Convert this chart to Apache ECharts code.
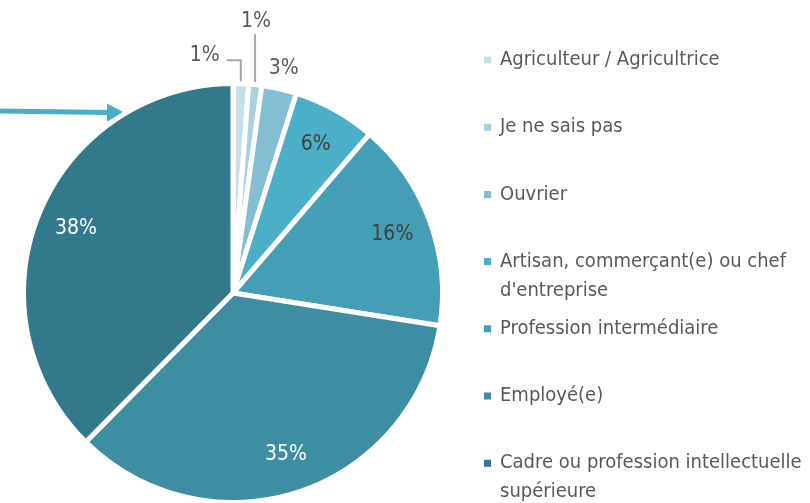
<!DOCTYPE html>
<html>
<head>
<meta charset="utf-8">
<script src="https://cdn.jsdelivr.net/npm/echarts@6/dist/echarts.min.js"></script>
<style>
    html, body {
        margin: 0;
        padding: 0;
        background: #ffffff;
    }
    #pie-chart {
        width: 810px;
        height: 503px;
    }
</style>
</head>
<body>
<div id="pie-chart"></div>
<script>
    // categories and shares (%), clockwise from the top
    var categories = [
        'Agriculteur / Agricultrice',
        'Je ne sais pas',
        'Ouvrier',
        'Artisan, commerçant(e) ou chef d\'entreprise',
        'Profession intermédiaire',
        'Employé(e)',
        'Cadre ou profession intellectuelle supérieure'
    ];
    var legendLabels = [
        'Agriculteur / Agricultrice',
        'Je ne sais pas',
        'Ouvrier',
        'Artisan, commerçant(e) ou chef\nd\'entreprise',
        'Profession intermédiaire',
        'Employé(e)',
        'Cadre ou profession intellectuelle\nsupérieure'
    ];
    var shares = [1.2, 1.0, 2.7, 6.4, 16.2, 34.9, 37.6];
    var valueLabels = ['1%', '1%', '3%', '6%', '16%', '35%', '38%'];

    var colors = ['#c5dfe8', '#a8d0de', '#84bfd1', '#4bafc8', '#449eb5', '#3d8da3', '#33798c'];
    var FONT = '"DejaVu Sans Condensed", "DejaVu Sans", sans-serif';

    var cx = 233, cy = 293, R = 209.5, Rv = 207;
    var total = shares.reduce(function (a, b) { return a + b; }, 0);
    var mids = [];
    var acc = 0;
    for (var i = 0; i < shares.length; i++) {
        mids.push((acc + shares[i] / 2) / total);
        acc += shares[i];
    }
    // point on the pie at a fraction of the circle, k * radius from the centre
    function polar(frac, k) {
        var a = (90 - frac * 360) * Math.PI / 180;
        return [cx + k * Rv * Math.cos(a), cy - k * Rv * Math.sin(a)];
    }

    var pieData = [];
    for (var i = 0; i < categories.length; i++) {
        var item = {
            name: categories[i],
            value: shares[i],
            itemStyle: { color: colors[i] },
            label: {
                color: i >= 5 ? '#ffffff' : (i >= 3 ? '#404040' : '#595959')
            }
        };
        if (i < 2) {
            item.label.position = 'outside';
            item.labelLine = { show: true };
        }
        pieData.push(item);
    }

    // one legend per entry so the wrapped ones keep the icon on their first line
    var legends = [];
    for (var i = 0; i < categories.length; i++) {
        var twoLines = legendLabels[i].indexOf('\n') >= 0;
        var iconY = 60 + 67.2 * i;
        legends.push({
            data: [categories[i]],
            orient: 'vertical',
            left: 482,
            top: twoLines ? iconY - 43.5 : iconY - 14.5,
            padding: 0,
            icon: 'rect',
            itemWidth: 9,
            itemHeight: 9,
            itemGap: 0,
            selectedMode: false,
            formatter: (function (txt) {
                return function () { return txt.indexOf('\n') >= 0 ? ' \n' + txt : txt; };
            })(legendLabels[i]),
            textStyle: {
                fontFamily: FONT,
                fontSize: 20,
                lineHeight: 29,
                color: '#595959',
                padding: [0, 0, 0, 3]
            }
        });
    }

    var chart = echarts.init(document.getElementById('pie-chart'));
    chart.setOption({
        animation: false,
        backgroundColor: '#ffffff',
        legend: legends,
        graphic: [
            {
                type: 'line',
                shape: { x1: 0, y1: 111, x2: 109, y2: 112.6 },
                style: { stroke: '#4aaec8', lineWidth: 5 }
            },
            {
                type: 'polygon',
                shape: { points: [[107, 103.5], [124, 112.6], [107, 121.5]] },
                style: { fill: '#4aaec8' }
            }
        ],
        series: [{
            type: 'pie',
            center: [cx, cy],
            radius: [0, R],
            startAngle: 90,
            clockwise: true,
            avoidLabelOverlap: false,
            itemStyle: {
                borderColor: '#ffffff',
                borderWidth: 5
            },
            label: {
                show: true,
                position: 'inside',
                fontFamily: FONT,
                fontSize: 21,
                formatter: function (p) { return valueLabels[p.dataIndex]; }
            },
            labelLine: {
                show: false,
                lineStyle: { color: '#a6a6a6', width: 2 }
            },
            labelLayout: function (p) {
                var i = p.dataIndex;
                if (i === 0) {
                    var p0 = polar(mids[0], 1.0);
                    var yTop = cy - 1.125 * Rv;
                    return {
                        x: p0[0] - 21, y: yTop - 5,
                        align: 'right', verticalAlign: 'middle',
                        labelLinePoints: [p0, [p0[0], yTop], [p0[0] - 14, yTop]]
                    };
                }
                if (i === 1) {
                    var q0 = polar(mids[1], 1.0);
                    var yTop2 = cy - 1.25 * Rv;
                    return {
                        x: q0[0] + 1, y: yTop2 - 13,
                        align: 'center', verticalAlign: 'middle',
                        labelLinePoints: [q0, [q0[0], (q0[1] + yTop2) / 2], [q0[0], yTop2]]
                    };
                }
                var k = i === 2 ? 1.11 : 0.82;
                var pt = polar(mids[i], k);
                return { x: pt[0], y: pt[1], align: 'center', verticalAlign: 'middle' };
            },
            data: pieData
        }]
    });
</script>
</body>
</html>
